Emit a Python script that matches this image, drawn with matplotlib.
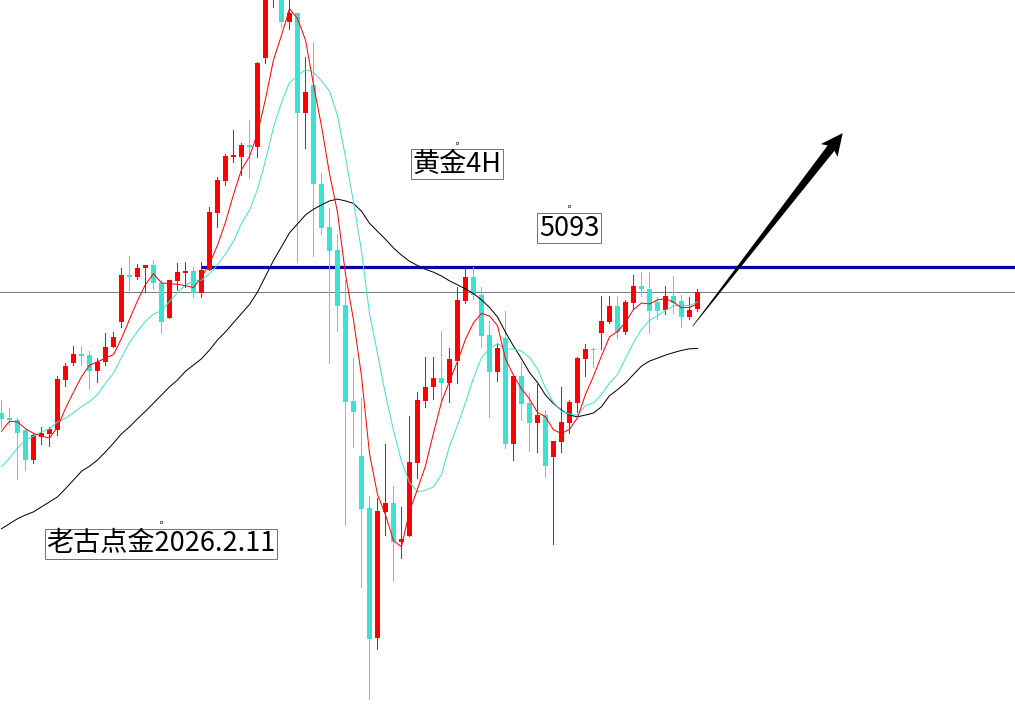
import numpy as np
import pandas as pd
import matplotlib
matplotlib.use("Agg")
import matplotlib.pyplot as plt
from matplotlib.patches import Polygon
from matplotlib.lines import Line2D
from matplotlib.transforms import IdentityTransform

plt.rcParams['font.family'] = ['Noto Sans CJK SC', 'DejaVu Sans']

# ---- data: 4H gold candles (price units) ----
opens = [4859, 4851, 4848, 4832, 4784, 4821, 4826, 4832, 4912, 4939,
         4954, 4952, 4926, 4941, 4965, 5005, 5080, 5077, 5091, 5096,
         5067, 5011, 5070, 5083, 5086, 5051, 5088, 5179, 5230, 5269,
         5269, 5286, 5285, 5427, 5552, 5568, 5485, 5499, 5339, 5384,
         5226, 5157, 5120, 5032, 4878, 4790, 4707, 4499, 4701, 4715,
         4653, 4662, 4779, 4878, 4901, 4915, 4907, 4942, 5038, 5077,
         5048, 4984, 4925, 4979, 4810, 4918, 4875, 4843, 4856, 4789,
         4813, 4843, 4875, 4946, 4962, 4987, 5005, 5030, 4989, 5035,
         5062, 5058, 5037, 5024, 5046, 5038, 5013, 5026]
highs = [4880, 4867, 4851, 4832, 4827, 4837, 4837, 4918, 4939, 4966,
         4966, 4958, 4947, 4987, 4989, 5091, 5110, 5098, 5096, 5104,
         5072, 5072, 5099, 5101, 5093, 5101, 5189, 5237, 5274, 5312,
         5291, 5328, 5421, 5560, 5597, 5584, 5528, 5499, 5429, 5453,
         5243, 5187, 5146, 5072, 4947, 4883, 4726, 4723, 4810, 4742,
         4709, 4854, 4893, 4949, 4949, 4990, 4963, 5061, 5090, 5093,
         5061, 5006, 4971, 5022, 4918, 4941, 4891, 4906, 4864, 4814,
         4901, 4880, 4949, 4970, 4963, 5046, 5046, 5046, 5040, 5080,
         5085, 5085, 5045, 5062, 5078, 5048, 5045, 5058]
lows = [4835, 4840, 4754, 4768, 4779, 4810, 4806, 4824, 4902, 4936,
        4936, 4898, 4909, 4936, 4965, 4997, 5051, 5074, 5053, 5058,
        4987, 5011, 5056, 5061, 5045, 5045, 5088, 5157, 5224, 5261,
        5240, 5235, 5269, 5419, 5509, 5477, 5474, 5101, 5283, 5110,
        5146, 4939, 4990, 4680, 4805, 4581, 4402, 4482, 4664, 4590,
        4627, 4662, 4755, 4869, 4882, 4880, 4877, 4907, 5035, 5042,
        4965, 4853, 4910, 4803, 4784, 4848, 4798, 4797, 4757, 4650,
        4797, 4827, 4861, 4918, 4933, 4962, 5003, 4979, 4986, 5027,
        5046, 4987, 5010, 5018, 5019, 4997, 5010, 5022]
closes = [4850, 4848, 4827, 4784, 4824, 4827, 4834, 4914, 4934, 4954,
          4950, 4926, 4941, 4965, 4981, 5080, 5077, 5091, 5096, 5067,
          5005, 5072, 5085, 5086, 5051, 5088, 5181, 5232, 5270, 5272,
          5288, 5285, 5419, 5544, 5584, 5485, 5499, 5339, 5373, 5226,
          5155, 5118, 5030, 4877, 4861, 4706, 4498, 4702, 4715, 4653,
          4658, 4781, 4880, 4901, 4915, 4907, 4946, 5040, 5077, 5048,
          4982, 4925, 4963, 4810, 4918, 4874, 4843, 4856, 4774, 4814,
          4845, 4877, 4947, 4962, 4960, 5006, 5030, 4989, 5037, 5062,
          5058, 5022, 5022, 5046, 5035, 5013, 5024, 5053]

# moving-average values at the left edge (history before the visible candles)
ma5_head = [4830, 4846, 4845, 4834]
ma10_head = [4773, 4787, 4803, 4816, 4822, 4829, 4834, 4845, 4851]
ma30_head = [4674, 4682, 4690, 4696, 4701, 4709, 4717, 4725, 4738, 4752,
             4766, 4774, 4784, 4797, 4811, 4826, 4837, 4850, 4862, 4875,
             4888, 4901, 4912, 4926, 4936, 4946, 4960, 4976, 4989]

level_price = 5093
level_start = 25
arrow_tail = (86.4, 4998)
arrow_tip = (105.15, 5307)

labels = [("黄金4H", 56.94, 5257), ("5093", 70.94, 5155),
          ("老古点金2026.2.11", 19.94, 4650)]

# ---- figure ----
W, H = 1015, 709
fig = plt.figure(figsize=(W / 100, H / 100), dpi=100, facecolor='white')
ax = fig.add_axes([0, 0, 1, 1])
ax.axis('off')
ax.set_xlim(-1.5 / 8, (W - 1.5) / 8)
ax.set_ylim(4385.6, 5520)

o = np.array(opens, float); h = np.array(highs, float)
l = np.array(lows, float); c = np.array(closes, float)
x = np.arange(len(c))
up = c >= o
RED = '#FF0000'
CYAN = '#40E0D0'
cols = np.where(up, RED, CYAN)

px = 1.6  # price per pixel
lw1 = 0.72  # one pixel in points

# horizontal lines
ax.axhline(closes[-1], color='#6E7F8E', lw=lw1, zorder=1)
ax.plot([level_start, (W - 1.5) / 8], [level_price, level_price],
        color='#0000B4', lw=2.3, zorder=1.5, solid_capstyle='butt')

# candles
ax.vlines(x, l, h, colors=cols, lw=lw1, zorder=2, antialiased=False)
bottom = np.minimum(o, c)
height = np.maximum(np.abs(c - o), 1.5 * px)
ax.bar(x, height, bottom=bottom, width=0.62, color=cols, lw=0, zorder=3,
       antialiased=False)

# moving averages
s = pd.Series(c)
ma5 = s.rolling(5).mean().to_numpy()
ma10 = s.rolling(10).mean().to_numpy()
ma30 = s.rolling(30).mean().to_numpy()
ma5[:4] = ma5_head
ma10[:9] = ma10_head
ma30[:29] = ma30_head
ax.plot(x, ma30, color='black', lw=lw1, zorder=4)
ax.plot(x, ma10, color=CYAN, lw=lw1, zorder=4)
ax.plot(x, ma5, color=RED, lw=lw1, zorder=4)

# text labels
texts = []
for txt, lx, ly in labels:
    texts.append(ax.text(lx, ly, txt, ha='center', va='center', fontsize=19.5,
                         color='black', zorder=6,
                         bbox=dict(boxstyle='square,pad=0.06', fc='white',
                                   ec='#7F7466', lw=lw1)))

fig.canvas.draw()

# small anchor marks above each label box
for tx in texts:
    bb = tx.get_bbox_patch().get_window_extent()
    cx = (bb.x0 + bb.x1) / 2
    ax.add_line(Line2D([cx], [bb.y1 + 6.5], marker='s', markersize=2.0,
                       mfc='white', mec='#555555', mew=0.6, ls='none',
                       transform=IdentityTransform(), zorder=6))

# arrow (tapered shaft + head), built in pixel space
t = ax.transData.transform(arrow_tail)
p = ax.transData.transform(arrow_tip)
d = p - t
L = np.hypot(*d)
u = d / L
n = np.array([-u[1], u[0]])
head_len, head_hw, shaft_hw = 19.0, 10.5, 4.3
base = p - u * head_len
pts = [t + n * 0.3, base + n * shaft_hw, base - u * 3 + n * head_hw, p,
       base - u * 3 - n * head_hw, base - n * shaft_hw, t - n * 0.3]
ax.add_patch(Polygon(pts, closed=True, fc='black', ec='none',
                     transform=IdentityTransform(), zorder=7))

fig.savefig('out.png', dpi=100, facecolor='white')
